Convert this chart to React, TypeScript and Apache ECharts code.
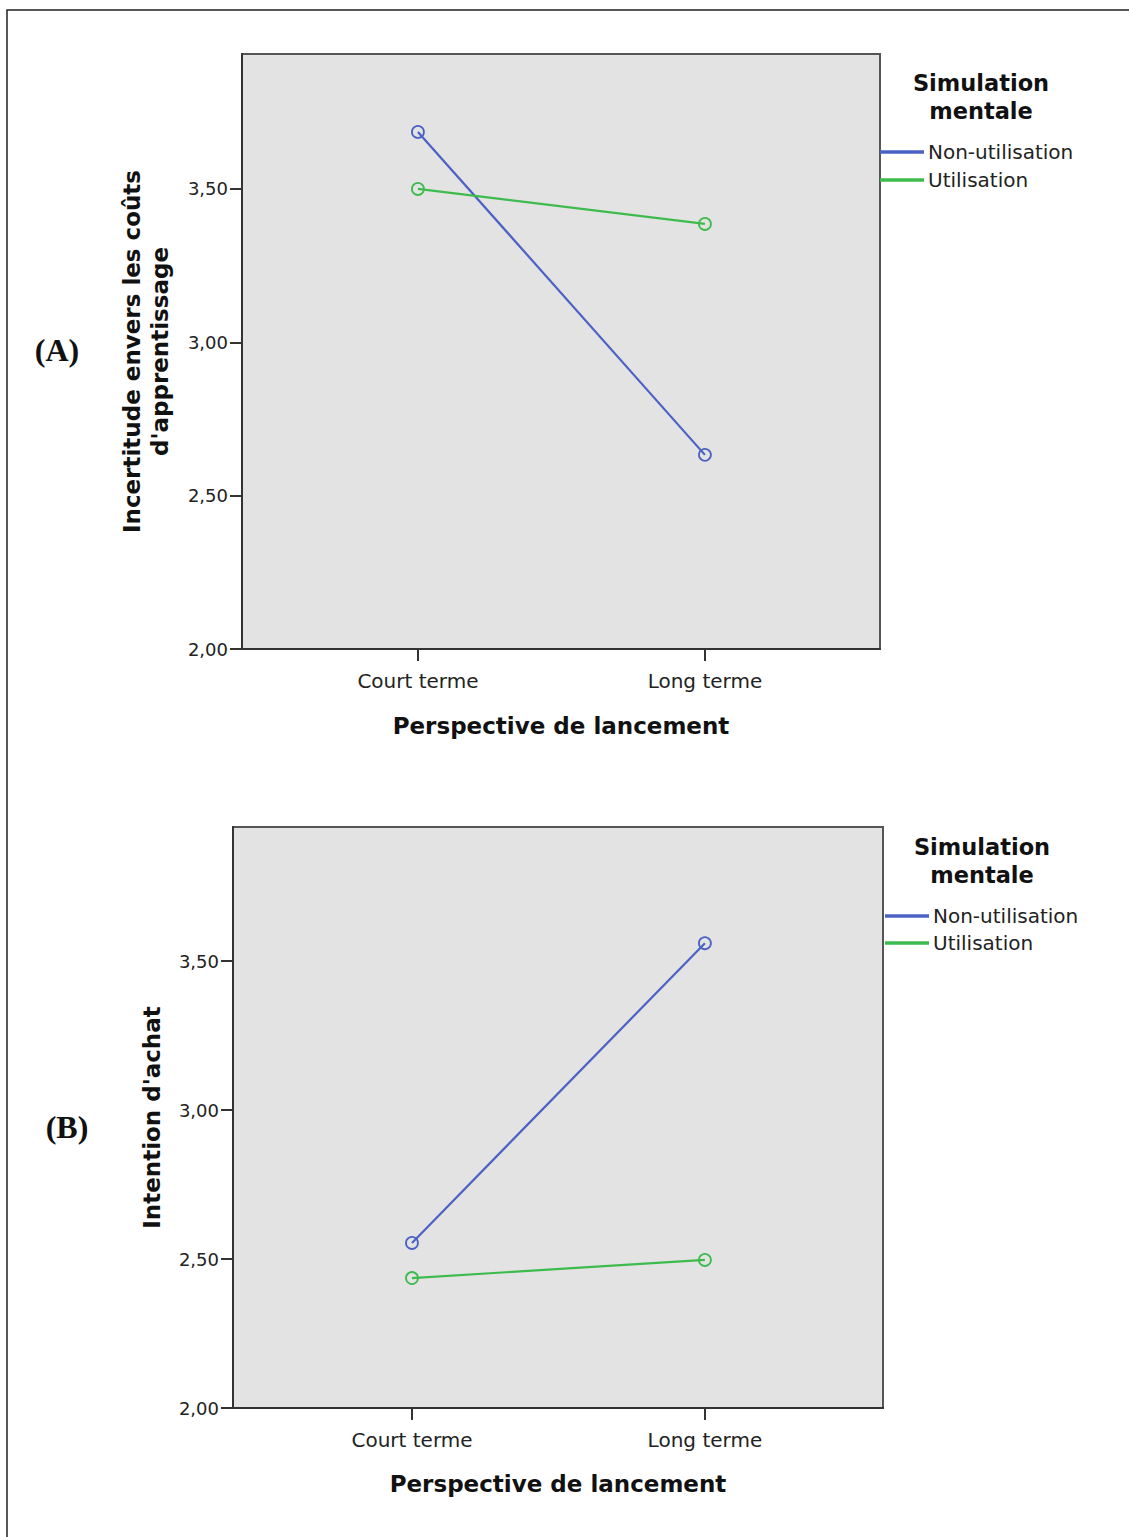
import React, { useEffect, useRef } from "react";
import * as echarts from "echarts";

const categories = ["Court terme", "Long terme"];
const seriesNames = ["Non-utilisation", "Utilisation"];
const aNonUtil = [3.686, 2.633];
const aUtil = [3.5, 3.386];
const bNonUtil = [2.554, 3.56];
const bUtil = [2.436, 2.497];
const yTicks = [2, 2.5, 3, 3.5];
const xTicks = [0, 1];
const legendTitle = "Simulation\nmentale";
const xTitle = "Perspective de lancement";
const yTitleA = "Incertitude envers les coûts\nd'apprentissage";
const yTitleB = "Intention d'achat";

const FONT = '"DejaVu Sans", sans-serif';
const BLUE = "#4b62c4";
const GREEN = "#3dbb4c";
const AXIS = "#333";

function mkX(gridIndex: number, min: number, max: number, nameGap: number) {
  return {
    type: "value",
    gridIndex,
    min,
    max,
    name: xTitle,
    nameLocation: "middle",
    nameGap,
    nameTextStyle: { fontFamily: FONT, fontWeight: "bold", fontSize: 23, color: "#111", lineHeight: 28 },
    axisLine: { show: true, onZero: false, lineStyle: { color: AXIS, width: 2 } },
    axisTick: { show: true, customValues: xTicks, length: 12, lineStyle: { color: AXIS, width: 2 } },
    axisLabel: {
      customValues: xTicks,
      formatter: (v: number) => categories[Math.round(v)] ?? "",
      margin: 22,
      fontSize: 20,
      color: "#222",
      fontFamily: FONT,
    },
    splitLine: { show: false },
  };
}

function mkY(gridIndex: number, max: number, name: string, nameGap: number) {
  return {
    type: "value",
    gridIndex,
    min: 2,
    max,
    name,
    nameLocation: "middle",
    nameGap,
    nameTextStyle: { fontFamily: FONT, fontWeight: "bold", fontSize: 23, color: "#111", lineHeight: 28 },
    axisLine: { show: true, onZero: false, lineStyle: { color: AXIS, width: 2 } },
    axisTick: { show: true, customValues: yTicks, length: 12, lineStyle: { color: AXIS, width: 2 } },
    axisLabel: {
      customValues: yTicks,
      formatter: (v: number) => v.toFixed(2).replace(".", ","),
      margin: 14,
      fontSize: 18,
      color: "#222",
      fontFamily: FONT,
    },
    splitLine: { show: false },
  };
}

function mkSeries(name: string, values: number[], color: string, idx: number) {
  return {
    type: "line",
    name,
    xAxisIndex: idx,
    yAxisIndex: idx,
    data: values.map((v, i) => [i, v]),
    symbol: "circle",
    symbolSize: 12,
    lineStyle: { color, width: 2.2 },
    itemStyle: { color: "rgba(0,0,0,0)", borderColor: color, borderWidth: 1.8 },
    emphasis: { disabled: true },
  };
}

function mkLegend(left: number, top: number, gap: number) {
  return {
    left,
    top,
    orient: "vertical",
    padding: 0,
    itemWidth: 42,
    itemHeight: 1.5,
    itemGap: gap,
    icon: "rect",
    selectedMode: false,
    data: [
      { name: seriesNames[0], itemStyle: { color: BLUE } },
      { name: seriesNames[1], itemStyle: { color: GREEN } },
    ],
    textStyle: { fontSize: 20, fontFamily: FONT, color: "#222", lineHeight: 22 },
  };
}

function textEl(text: string, x: number, y: number, size: number, family: string) {
  return {
    type: "text",
    x,
    y,
    style: {
      text,
      fontSize: size,
      fontWeight: "bold",
      fontFamily: family,
      fill: "#111",
      align: "center",
      verticalAlign: "middle",
      lineHeight: 28,
    },
  };
}

export default function App() {
  const ref = useRef<HTMLDivElement>(null);
  useEffect(() => {
    if (!ref.current) return;
    const chart = echarts.init(ref.current, undefined, { renderer: "svg" });
    chart.setOption({
      animation: false,
      grid: [
        { left: 242, top: 54, width: 638, height: 595, show: true, backgroundColor: "#e3e3e3", borderColor: "#555", borderWidth: 2 },
        { left: 233, top: 827, width: 650, height: 581, show: true, backgroundColor: "#e3e3e3", borderColor: "#555", borderWidth: 2 },
      ],
      xAxis: [mkX(0, -0.613, 1.61, 63), mkX(1, -0.611, 1.608, 62)],
      yAxis: [mkY(0, 3.94, yTitleA, 68), mkY(1, 3.95, yTitleB, 67)],
      legend: [mkLegend(880, 141, 6), mkLegend(885, 905, 5)],
      series: [
        mkSeries(seriesNames[0], aNonUtil, BLUE, 0),
        mkSeries(seriesNames[1], aUtil, GREEN, 0),
        mkSeries(seriesNames[0], bNonUtil, BLUE, 1),
        mkSeries(seriesNames[1], bUtil, GREEN, 1),
      ],
      graphic: [
        {
          type: "rect",
          shape: { x: 7, y: 10, width: 1200, height: 1600 },
          style: { fill: "none", stroke: "#222", lineWidth: 1.5 },
          silent: true,
        },
        textEl("(A)", 57, 350, 32, '"Liberation Serif", serif'),
        textEl("(B)", 67, 1127, 32, '"Liberation Serif", serif'),
        textEl(legendTitle, 981, 97, 22.5, FONT),
        textEl(legendTitle, 982, 861, 22.5, FONT),
      ],
    });
    return () => chart.dispose();
  }, []);
  return <div ref={ref} style={{ position: "absolute", left: 0, top: 0, width: 1129, height: 1537 }} />;
}
